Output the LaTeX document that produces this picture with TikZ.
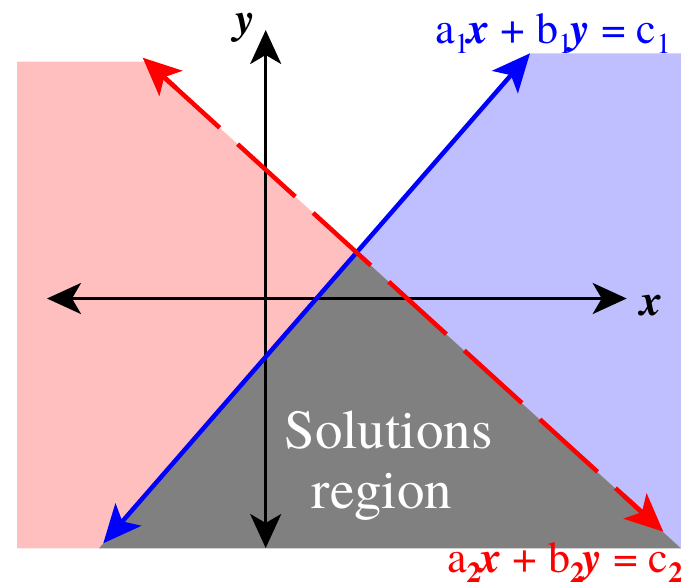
\documentclass[tikz,border=0pt]{standalone}
\usepackage{fontspec}
\setmainfont{TeX Gyre Termes}
\usetikzlibrary{arrows.meta,calc}
\definecolor{pinkfill}{RGB}{255,191,191}
\definecolor{bluefill}{RGB}{191,191,255}
\definecolor{grayfill}{RGB}{128,128,128}
\definecolor{lineblue}{RGB}{0,0,255}
\definecolor{linered}{RGB}{255,0,0}
\newcommand{\subs}[1]{\raisebox{-10pt}{\fontsize{29}{29}\selectfont #1}}
\newcommand{\bi}[1]{\textbf{\textit{#1}}}
\begin{document}
\begin{tikzpicture}[x=1pt,y=-1pt,
  axisline/.style={line width=3pt, >={Stealth[length=34pt,width=31pt,inset=9pt]}, <->},
  bluelinestyle/.style={line width=4.5pt, draw=lineblue, >={Stealth[length=38pt,width=34pt,inset=9pt]}, <->},
  redlinestyle/.style={line width=4.5pt, draw=linered, >={Stealth[length=38pt,width=34pt,inset=9pt]}},
  eqlabel/.style={inner sep=0pt, anchor=base west, font=\fontsize{44}{44}\selectfont},
  axlabel/.style={inner sep=0pt, anchor=base west, font=\fontsize{44}{44}\selectfont\bfseries\itshape},
  regionlabel/.style={inner sep=0pt, anchor=base, text=white, font=\fontsize{55}{55}\selectfont}
]
\useasboundingbox (0,0) rectangle (681,582);
% line end points
\coordinate (R1) at (142.7,57.7);
\coordinate (R2) at (663.3,531.7);
\coordinate (B1) at (103.3,543.3);
\coordinate (B2) at (530,53.3);
\coordinate (A) at (intersection of R1--R2 and B1--B2);
% fills
\fill[pinkfill] (17,61.7) -- (147.1,61.7) -- (A) -- (99,548.3) -- (17,548.3) -- cycle;
\fill[bluefill] (B2) -- (681,53.3) -- (681,548.3) -- (A) -- cycle;
\fill[grayfill] (A) -- (681,548.3) -- (99,548.3) -- cycle;
% axes
\coordinate (xl) at (47,298.5);
\coordinate (xr) at (626.7,298.5);
\coordinate (yt) at (265.7,30);
\coordinate (yb) at (265.7,548);
\draw[axisline] (xl) -- (xr);
\draw[axisline] (yb) -- (yt);
% blue line
\draw[bluelinestyle] (B1) -- (B2);
% red dashed line
\coordinate (r1in) at ($(R1)!20pt!(R2)$);
\coordinate (r2in) at ($(R1)!690pt!(R2)$);
\coordinate (r1a) at ($(R1)!45pt!(R2)$);
\coordinate (r2a) at ($(R1)!650pt!(R2)$);
\draw[redlinestyle, dash pattern=on 78pt off 24.2pt, dash phase=96.1pt] (r1in) -- (r2in);
\draw[redlinestyle, ->] (r1a) -- (R1);
\draw[redlinestyle, ->] (r2a) -- (R2);
% labels
\node[axlabel] (ylab) at (235,33) {y};
\node[axlabel] (xlab) at (640,315) {x};
\node[eqlabel, text=lineblue] (eq1) at (435,43.3) {a\subs{1}\kern-2pt\bi{x} + b\subs{1}\kern-2pt\bi{y} = c\subs{1}};
\node[eqlabel, text=linered] (eq2) at (447,572) {a\subs{\bfseries 2}\kern-2pt\bi{x} + b\subs{\bfseries 2}\kern-2pt\bi{y} = c\subs{\bfseries 2}};
\node[regionlabel] (sol) at (388.5,448) {Solutions};
\node[regionlabel] (reg) at (382,508) {region};
\end{tikzpicture}
\end{document}
